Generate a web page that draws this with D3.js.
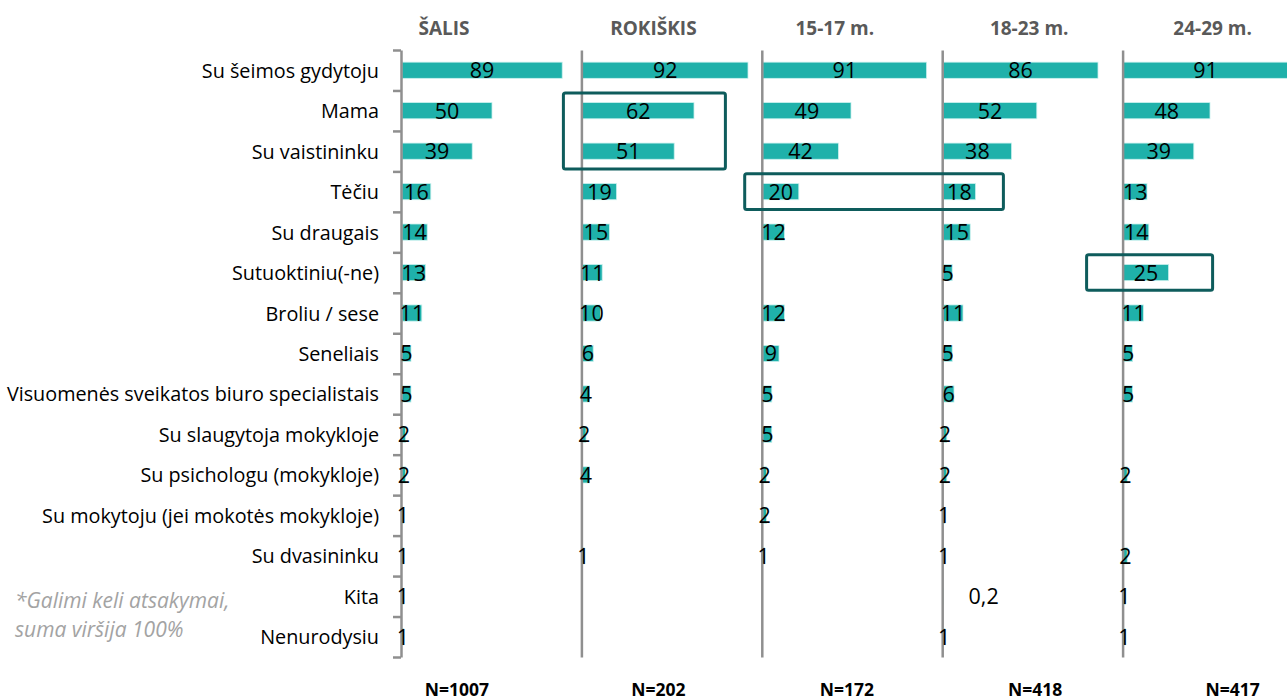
<!DOCTYPE html>
<html>
<head>
<meta charset="utf-8">
<script src="https://cdn.jsdelivr.net/npm/d3@7/dist/d3.min.js"></script>
<style>
    html, body { margin: 0; padding: 0; background: #fff; }
    svg { display: block; font-family: "Open Sans", sans-serif; }
</style>
</head>
<body>
<div id="chart"></div>
<script>
// categories (top to bottom)
var categories = [
    'Su šeimos gydytoju',
    'Mama',
    'Su vaistininku',
    'Tėčiu',
    'Su draugais',
    'Sutuoktiniu(-ne)',
    'Broliu / sese',
    'Seneliais',
    'Visuomenės sveikatos biuro specialistais',
    'Su slaugytoja mokykloje',
    'Su psichologu (mokykloje)',
    'Su mokytoju (jei mokotės mokykloje)',
    'Su dvasininku',
    'Kita',
    'Nenurodysiu'
];

var groups = ['ŠALIS', 'ROKIŠKIS', '15-17 m.', '18-23 m.', '24-29 m.'];
var sampleSizes = ['N=1007', 'N=202', 'N=172', 'N=418', 'N=417'];

// % per group, null = no answer shown
var salis    = [89, 50, 39, 16, 14, 13, 11, 5, 5, 2, 2, 1, 1, 1, 1];
var rokiskis = [92, 62, 51, 19, 15, 11, 10, 6, 4, 2, 4, null, 1, null, null];
var age1517  = [91, 49, 42, 20, 12, null, 12, 9, 5, 5, 2, 2, 1, null, null];
var age1823  = [86, 52, 38, 18, 15, 5, 11, 5, 6, 2, 2, 1, 1, 0.2, 1];
var age2429  = [91, 48, 39, 13, 14, 25, 11, 5, 5, null, 2, null, 2, 1, 1];

var series = [salis, rokiskis, age1517, age1823, age2429];

// highlighted cells: group(s) and rows
var highlights = [
    { from: 'ROKIŠKIS', to: 'ROKIŠKIS', rows: ['Mama', 'Su vaistininku'], x0: -10, x1: 80 },
    { from: '15-17 m.', to: '18-23 m.', rows: ['Tėčiu'], x0: -9.5, x1: 34 },
    { from: '24-29 m.', to: '24-29 m.', rows: ['Sutuoktiniu(-ne)'], x0: -20, x1: 50 }
];

var footnote = ['*Galimi keli atsakymai,', 'suma viršija 100%'];

var width = 1287, height = 700;
var plotTop = 50, plotBottom = 657;
var headerDx = [43, 72, 73, 87, 90];
var nDx = [56, 77, 85, 93, 110];

var svg = d3.select('#chart').append('svg')
    .attr('width', width)
    .attr('height', height);

var y = d3.scaleBand()
    .domain(categories)
    .range([plotTop, plotBottom])
    .paddingInner(0.6)
    .paddingOuter(0.3);

var panel = d3.scaleBand()
    .domain(groups)
    .range([401, 401 + 180.4 * groups.length]);

var x = d3.scaleLinear().domain([0, 100]).range([0, 180]);

var rowIdx = d3.scaleLinear().domain([0, categories.length]).range([plotTop, plotBottom]);

var fmt = d3.formatLocale({ decimal: ',', thousands: ' ', grouping: [3], currency: ['', ''] }).format('~g');

// category labels
svg.append('g')
    .attr('transform', 'translate(401,0)')
    .call(d3.axisLeft(y).tickSize(0).tickPadding(22))
    .call(function(g) {
        g.select('.domain').remove();
        g.selectAll('text')
            .attr('font-family', '"Open Sans", sans-serif')
            .attr('font-size', 19.8)
            .attr('dy', '0.38em')
            .attr('fill', '#000');
    });

// bars and value labels, one panel per group
groups.forEach(function(name, gi) {
    var px = panel(name);
    var rows = categories.map(function(c, i) {
        return { cat: c, value: series[gi][i] };
    }).filter(function(d) { return d.value !== null; });

    var g = svg.append('g').attr('transform', 'translate(' + px + ',0)');

    g.selectAll('rect')
        .data(rows)
        .enter().append('rect')
        .attr('x', 1)
        .attr('y', function(d) { return y(d.cat); })
        .attr('width', function(d) { return x(d.value); })
        .attr('height', y.bandwidth())
        .attr('fill', '#1fb1aa')
        .attr('stroke', '#c9f1ee')
        .attr('stroke-width', 0.8);

    // axis line (category ticks only on first panel)
    var axis = d3.axisLeft(rowIdx).tickFormat('').tickSizeOuter(0);
    if (gi === 0) {
        axis.tickValues(d3.range(categories.length + 1)).tickSizeInner(8);
    } else {
        axis.tickValues([]);
    }
    g.append('g')
        .call(axis)
        .call(function(a) {
            a.selectAll('.domain, line')
                .attr('stroke', '#8f8f8f')
                .attr('stroke-width', 2.5);
        });

    g.selectAll('text.val')
        .data(rows)
        .enter().append('text')
        .attr('class', 'val')
        .attr('x', function(d) {
            return d.value < 1 ? x(d.value) + 26 : 1 + x(d.value) / 2;
        })
        .attr('y', function(d) { return y(d.cat) + y.bandwidth() / 2; })
        .attr('dy', '0.37em')
        .attr('text-anchor', function(d) { return d.value < 1 ? 'start' : 'middle'; })
        .attr('font-size', 21.5)
        .attr('fill', '#000')
        .text(function(d) { return fmt(d.value); });

    // header + sample size
    svg.append('text')
        .attr('x', px + headerDx[gi])
        .attr('y', 35)
        .attr('text-anchor', 'middle')
        .attr('font-size', 19)
        .attr('font-weight', 'bold')
        .attr('fill', '#595959')
        .text(name);

    svg.append('text')
        .attr('x', px + nDx[gi])
        .attr('y', 696)
        .attr('text-anchor', 'middle')
        .attr('font-size', 17.5)
        .attr('font-weight', 'bold')
        .attr('fill', '#000')
        .text(sampleSizes[gi]);
});

// highlight boxes
svg.append('g')
    .selectAll('rect')
    .data(highlights)
    .enter().append('rect')
    .attr('x', function(d) { return panel(d.from) + x(d.x0); })
    .attr('width', function(d) { return panel(d.to) + x(d.x1) - panel(d.from) - x(d.x0); })
    .attr('y', function(d) { return y(d.rows[0]) - y.step() * 0.24; })
    .attr('height', function(d) {
        var last = d.rows[d.rows.length - 1];
        return y(last) + y.bandwidth() + y.step() * 0.24 - y(d.rows[0]) + y.step() * 0.24;
    })
    .attr('rx', 2)
    .attr('fill', 'none')
    .attr('stroke', '#0e5c5c')
    .attr('stroke-width', 3);

// footnote
svg.append('g')
    .selectAll('text')
    .data(footnote)
    .enter().append('text')
    .attr('x', 15)
    .attr('y', function(d, i) { return 608 + i * 29; })
    .attr('font-size', 21)
    .attr('font-style', 'italic')
    .attr('fill', '#a3a3a3')
    .text(function(d) { return d; });
</script>
</body>
</html>
